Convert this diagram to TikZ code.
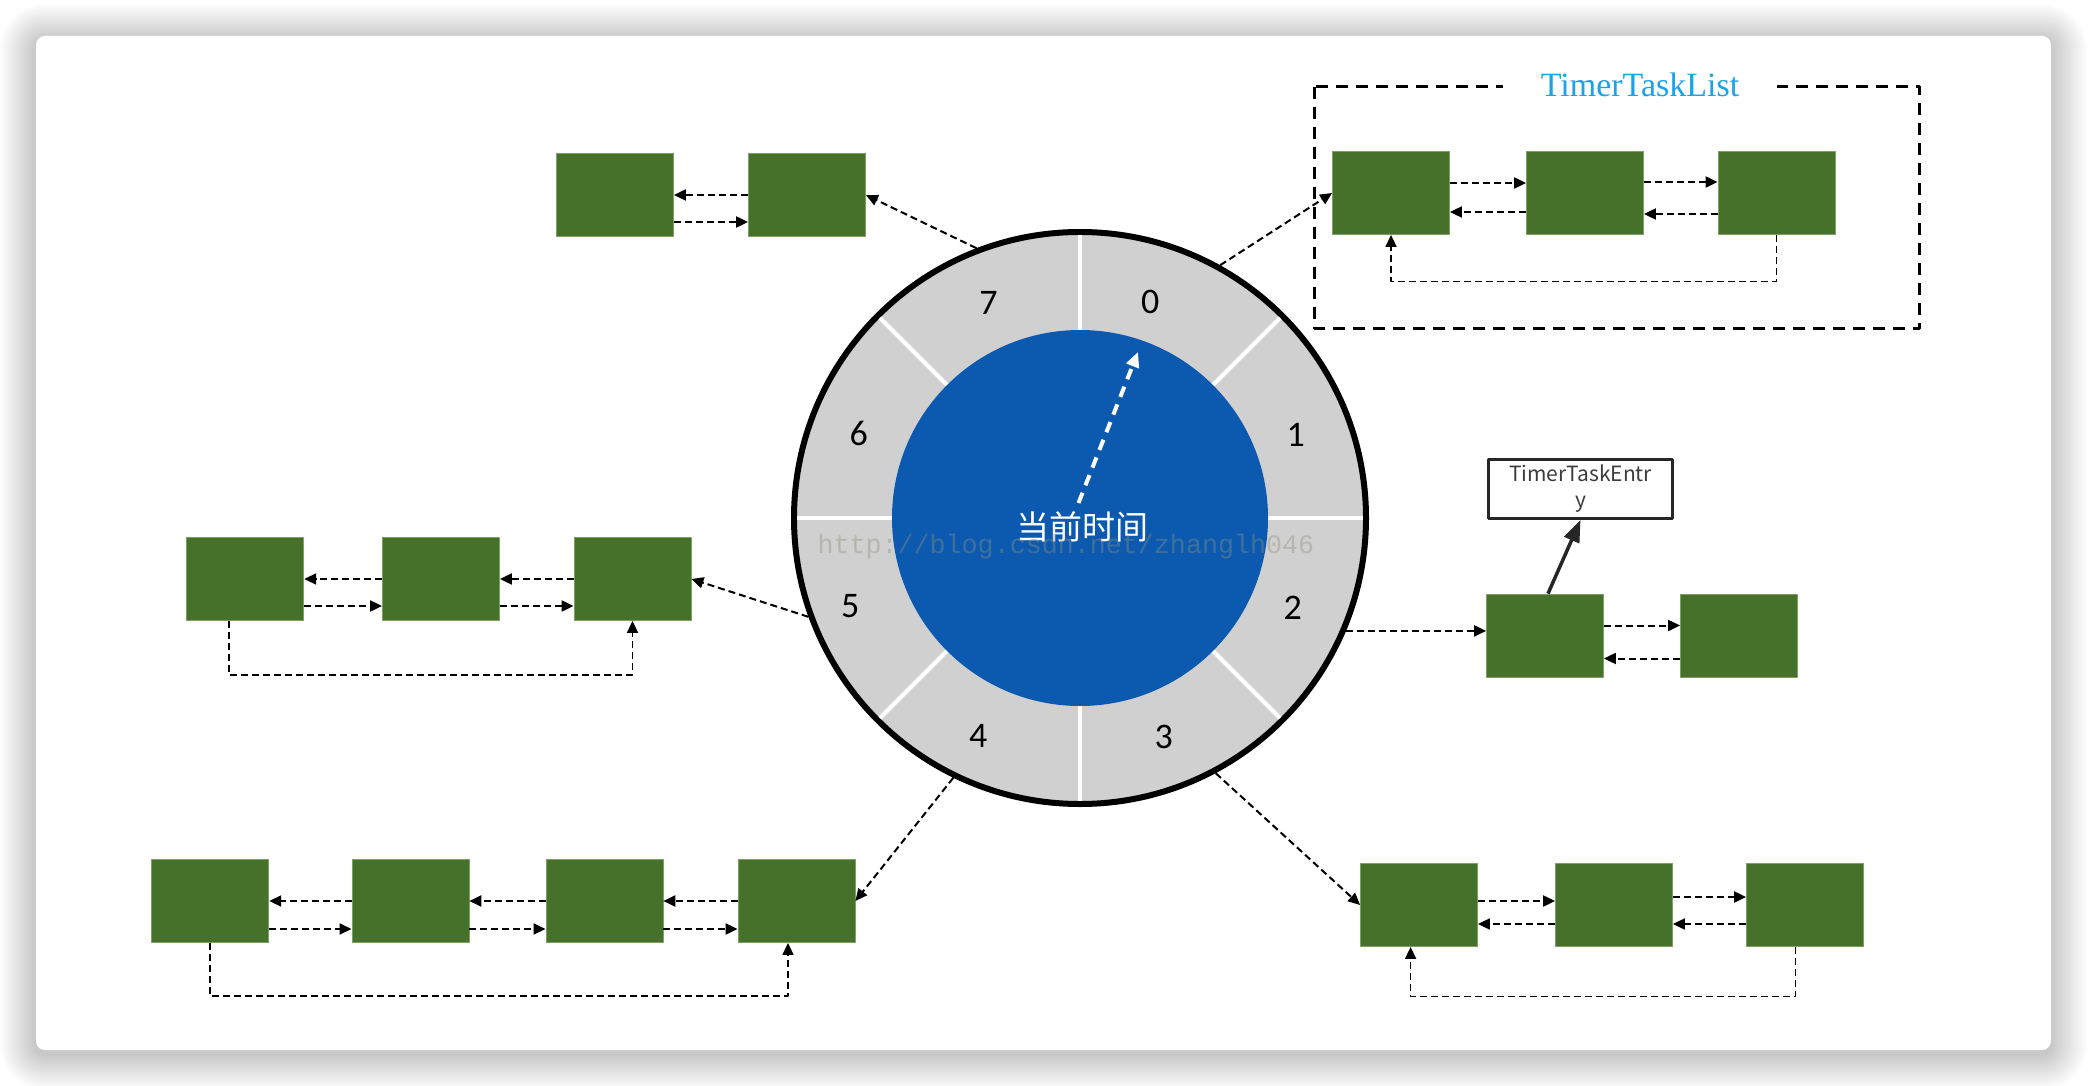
\documentclass[tikz,border=0pt]{standalone}
\usepackage{fontspec}
\setmainfont{Carlito}
\newfontfamily\cjkfont{Noto Sans CJK SC}
\newfontfamily\titlefont{Liberation Serif}
\newfontfamily\markfont{Liberation Mono}
\definecolor{taskgreen}{HTML}{46712A}
\definecolor{taskedge}{HTML}{7FA065}
\definecolor{wheelblue}{HTML}{0C5AB0}
\definecolor{slotgrey}{HTML}{D0D0D0}
\definecolor{titleblue}{HTML}{1AA3E8}
\definecolor{entryedge}{HTML}{262626}
\definecolor{markgrey}{HTML}{909080}
\usetikzlibrary{arrows.meta,calc}

\begin{document}
\begin{tikzpicture}[
  x=1pt,
  y=1pt,
  line join=round,
  task/.style={rectangle,fill=taskgreen,draw=taskedge,line width=0.8pt,minimum width=117pt,minimum height=83pt,inner sep=0pt},
  link/.style={draw=black,line width=2pt,dash pattern=on 7pt off 4pt,-{Triangle[length=12pt,width=11pt]}},
  wrap/.style={link,line width=1.7pt},
  slotring/.style={circle,fill=slotgrey,draw=black,line width=6pt,minimum size=572pt,inner sep=0pt},
  divider/.style={draw=white,line width=4pt},
  hub/.style={circle,fill=wheelblue,minimum size=376pt,inner sep=0pt},
  slotlabel/.style={font=\fontsize{36}{40}\selectfont,text=black},
  hand/.style={draw=white,line width=4pt,dash pattern=on 11pt off 8pt,-{Triangle[length=15pt,width=13pt]}},
  nowlabel/.style={font=\cjkfont\fontsize{33}{38}\selectfont,text=white},
  listframe/.style={draw=black,line width=3pt,dash pattern=on 12pt off 8pt},
  listtitle/.style={fill=white,inner xsep=38pt,inner ysep=2pt,font=\titlefont\fontsize{34}{38}\selectfont,text=titleblue},
  entrybox/.style={rectangle,draw=entryedge,line width=3pt,fill=white,minimum width=184pt,minimum height=59pt,inner sep=0pt,align=center,font=\cjkfont\fontsize{21}{26}\selectfont,text=entryedge!90},
  entryarrow/.style={draw=entryedge,line width=3.5pt,-{Triangle[length=22pt,width=16pt]}},
  watermark/.style={font=\markfont\fontsize{26.7}{30}\selectfont,text=markgrey,text opacity=0.4}
]
  \useasboundingbox (0,0) rectangle (2088,-1086);
  \fill[white] (0,0) rectangle (2088,-1086);

  % card with its soft shadow
  \foreach \s [evaluate=\s as \r using 9+\s] in {2,4,...,36}
    \fill[black,opacity=0.011,rounded corners=\r pt] (36-\s,-40+\s) rectangle (2051+\s,-1054-\s);
  \fill[white,rounded corners=9pt] (36,-36) rectangle (2051,-1050);

  % timing wheel
  \node[slotring] (wheel) at (1080,-518) {};
  \foreach \a in {0,45,...,315}
    \draw[divider] ($(wheel.center)+(\a:185)$) -- ($(wheel.center)+(\a:283)$);
  \node[hub] (hub) at (wheel.center) {};
  \foreach \n/\a/\r in {0/72/227,1/21/231,2/-23/231,3/-69/234,4/-115/241,5/-159/246,6/159/237,7/113/234}
    \node[slotlabel] (slot\n) at ($(wheel.center)+(\a:\r)$) {\n};

  \coordinate (handbase) at (1078.5,-503);
  \coordinate (handtip) at (1138,-352);
  \draw[hand] (handbase) -- (handtip);
  \node[nowlabel] (now) at (1082,-527) {当前时间};

  % slot 0: TimerTaskList
  \draw[listframe] (1314.5,-86.7) rectangle (1919.8,-328.3);
  \node[listtitle] (title) at (1640,-85) {TimerTaskList};
  \node[task] (s0a) at (1391,-193) {};
  \node[task] (s0b) at (1585,-193) {};
  \node[task] (s0c) at (1776.5,-193) {};
  \draw[link] ([yshift=10pt]s0a.east) -- ([yshift=10pt]s0b.west);
  \draw[link] ([yshift=11pt]s0b.east) -- ([yshift=11pt]s0c.west);
  \draw[link] ([yshift=-19pt]s0b.west) -- ([yshift=-19pt]s0a.east);
  \draw[link] ([yshift=-21pt]s0c.west) -- ([yshift=-21pt]s0b.east);
  \draw[wrap] (s0c.south) -- ++(0,-46.5) -| (s0a.south);

  % slot 7
  \node[task] (s7a) at (615,-195) {};
  \node[task] (s7b) at (807,-195) {};
  \draw[link] (s7b.west) -- (s7a.east);
  \draw[link] ([yshift=-27pt]s7a.east) -- ([yshift=-27pt]s7b.west);

  % slot 5
  \node[task] (s5a) at (245.3,-579) {};
  \node[task] (s5b) at (441,-579) {};
  \node[task] (s5c) at (632.5,-579) {};
  \draw[link] (s5b.west) -- (s5a.east);
  \draw[link] (s5c.west) -- (s5b.east);
  \draw[link] ([yshift=-27pt]s5a.east) -- ([yshift=-27pt]s5b.west);
  \draw[link] ([yshift=-27pt]s5b.east) -- ([yshift=-27pt]s5c.west);
  \draw[wrap] ([xshift=-16pt]s5a.south) -- ++(0,-54) -| (s5c.south);

  % slot 2
  \node[task] (s2a) at (1545,-635.5) {};
  \node[task] (s2b) at (1739,-635.5) {};
  \draw[link] ([yshift=10pt]s2a.east) -- ([yshift=10pt]s2b.west);
  \draw[link] ([yshift=-23pt]s2b.west) -- ([yshift=-23pt]s2a.east);
  \node[entrybox] (entry) at (1580.5,-489) {TimerTaskEntr\\y};
  \draw[entryarrow] ([xshift=3pt]s2a.north) -- (entry.south);

  % slot 4
  \node[task] (s4a) at (210.3,-901) {};
  \node[task] (s4b) at (410.4,-901) {};
  \node[task] (s4c) at (604.4,-901) {};
  \node[task] (s4d) at (796.5,-901) {};
  \draw[link] (s4b.west) -- (s4a.east);
  \draw[link] (s4c.west) -- (s4b.east);
  \draw[link] (s4d.west) -- (s4c.east);
  \draw[link] ([yshift=-28pt]s4a.east) -- ([yshift=-28pt]s4b.west);
  \draw[link] ([yshift=-28pt]s4b.east) -- ([yshift=-28pt]s4c.west);
  \draw[link] ([yshift=-28pt]s4c.east) -- ([yshift=-28pt]s4d.west);
  \draw[wrap] (s4a.south) -- ++(0,-53) -| ([xshift=-8.5pt]s4d.south);

  % slot 3
  \node[task] (s3a) at (1419,-905) {};
  \node[task] (s3b) at (1614,-905) {};
  \node[task] (s3c) at (1805,-905) {};
  \draw[link] ([yshift=4pt]s3a.east) -- ([yshift=4pt]s3b.west);
  \draw[link] ([yshift=8pt]s3b.east) -- ([yshift=8pt]s3c.west);
  \draw[link] ([yshift=-19pt]s3b.west) -- ([yshift=-19pt]s3a.east);
  \draw[link] ([yshift=-19pt]s3c.west) -- ([yshift=-19pt]s3b.east);
  \draw[wrap] ([xshift=-9.4pt]s3c.south) -- ++(0,-49.5) -| ([xshift=-8.4pt]s3a.south);

  % slots to their lists
  \draw[link] (wheel.61) -- (s0a.west);
  \draw[link] (wheel.111) -- (s7b.east);
  \draw[link] (wheel.200) -- (s5c.east);
  \draw[link] (wheel.-23.7) -- (wheel.-23.7 -| s2a.west);
  \draw[link] (wheel.-116.5) -- (s4d.east);
  \draw[link] (wheel.-62) -- (s3a.west);

  \node[watermark,anchor=base west] (mark) at (814,-553) {http://blog.csdn.net/zhanglh046};
\end{tikzpicture}
\end{document}
